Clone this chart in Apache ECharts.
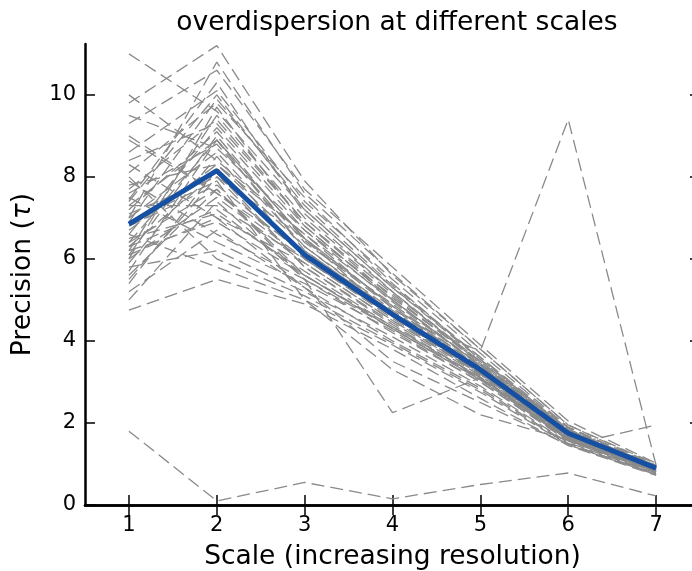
<!DOCTYPE html>
<html>
<head>
<meta charset="utf-8">
<script src="https://cdn.jsdelivr.net/npm/echarts@6/dist/echarts.min.js"></script>
<style>
  html, body { margin: 0; padding: 0; background: #fff; }
  #chart { width: 692px; height: 571px; }
</style>
</head>
<body>
<div id="chart"></div>
<script>
// scales on the x axis
const scales = ['1', '2', '3', '4', '5', '6', '7'];
// y tick values
const yTicks = [0, 2, 4, 6, 8, 10];
const yMax = 11.24;

// mean precision (thick blue line)
const meanPrecision = [6.85, 8.15, 6.1, 4.65, 3.3, 1.75, 0.9];

// individual runs (grey dashed lines), one row per run
const runs = [
  [11.0, 9.6, 7.2, 5.3, 3.6, 1.8, 0.92],
  [9.8, 11.2, 7.9, 5.6, 3.8, 1.95, 1.0],
  [10.0, 8.4, 6.6, 5.0, 3.4, 1.75, 0.9],
  [9.3, 10.6, 7.7, 5.8, 3.9, 2.05, 1.02],
  [8.9, 7.6, 6.2, 4.7, 3.3, 1.7, 0.88],
  [8.6, 10.1, 7.4, 5.5, 3.7, 1.9, 0.95],
  [8.3, 7.0, 5.9, 4.5, 3.2, 1.65, 0.85],
  [8.1, 9.8, 7.5, 5.4, 3.55, 1.85, 0.93],
  [7.9, 6.6, 5.5, 4.3, 3.05, 1.6, 0.82],
  [7.7, 9.4, 6.9, 5.15, 3.5, 1.8, 0.9],
  [7.6, 8.8, 6.4, 4.9, 3.35, 1.72, 0.88],
  [7.45, 10.3, 7.1, 5.2, 3.45, 1.82, 0.96],
  [7.3, 7.3, 6.0, 4.6, 3.25, 1.68, 0.86],
  [7.2, 9.1, 6.7, 4.95, 3.4, 1.78, 0.9],
  [7.1, 8.0, 6.5, 4.85, 3.3, 1.74, 0.89],
  [7.0, 8.6, 6.3, 4.75, 3.28, 1.7, 0.87],
  [6.9, 9.9, 7.3, 5.35, 3.6, 1.88, 0.94],
  [6.8, 7.8, 6.1, 4.6, 3.22, 1.66, 0.85],
  [6.7, 8.3, 6.6, 4.8, 3.3, 1.76, 0.9],
  [6.6, 9.2, 6.8, 5.0, 3.42, 1.8, 0.92],
  [6.5, 7.1, 5.7, 4.35, 3.1, 1.62, 0.83],
  [6.4, 8.9, 6.2, 4.7, 3.25, 1.7, 0.88],
  [6.3, 8.1, 5.8, 4.45, 3.15, 1.64, 0.84],
  [6.2, 6.9, 5.6, 4.3, 3.08, 1.58, 0.8],
  [6.1, 9.0, 6.45, 4.8, 3.32, 1.72, 0.89],
  [6.0, 7.5, 5.9, 4.5, 3.18, 1.66, 0.86],
  [5.9, 8.5, 6.0, 4.55, 3.2, 1.68, 0.87],
  [5.8, 6.2, 5.2, 4.1, 2.9, 1.52, 0.78],
  [5.6, 7.7, 5.6, 4.3, 3.05, 1.6, 0.82],
  [5.4, 8.2, 6.1, 4.6, 3.2, 1.7, 0.87],
  [5.2, 6.7, 5.3, 4.0, 2.85, 1.5, 0.76],
  [5.0, 7.4, 5.5, 4.2, 3.0, 1.56, 0.8],
  [4.75, 5.5, 4.9, 3.8, 2.6, 1.45, 0.72],
  [8.0, 6.0, 5.1, 3.95, 2.8, 1.48, 0.74],
  [9.5, 8.7, 6.7, 5.1, 3.45, 1.78, 0.91],
  [7.0, 10.8, 7.6, 5.65, 3.8, 1.95, 0.97],
  [6.2, 9.5, 7.0, 5.2, 3.5, 1.82, 0.92],
  [5.5, 8.0, 5.8, 4.4, 3.1, 1.62, 0.84],
  [7.5, 6.4, 5.4, 4.25, 3.0, 1.58, 0.8],
  [6.9, 7.9, 5.0, 3.3, 2.2, 1.58, 0.74],
  [8.4, 9.3, 6.9, 5.05, 3.5, 1.8, 0.9],
  [7.8, 8.3, 6.3, 4.7, 3.26, 1.7, 0.87],
  [6.6, 5.8, 5.0, 3.9, 2.75, 1.47, 0.74],
  [7.4, 10.0, 7.2, 5.3, 3.55, 1.84, 0.93],
  [6.3, 7.2, 5.6, 4.35, 3.12, 1.64, 0.84],
  [5.7, 8.9, 6.5, 4.85, 3.36, 1.74, 0.89],
  [9.0, 7.6, 6.0, 4.6, 3.22, 1.68, 0.86],
  [6.0, 9.7, 6.8, 5.0, 3.38, 1.76, 0.9],
  [6.4, 7.7, 5.5, 2.25, 3.1, 1.7, 0.85],
  [7.3, 8.9, 6.5, 4.6, 3.76, 9.4, 0.97],
  [6.1, 7.0, 5.3, 3.5, 2.5, 1.46, 1.95],
  [1.8, 0.1, 0.55, 0.15, 0.5, 0.78, 0.22]
];

const FONT = 'DejaVu Sans';
const spine = { show: true, lineStyle: { color: '#000', width: 2.5 } };
const tick = { show: true, inside: true, length: 10, alignWithLabel: true, lineStyle: { color: '#000', width: 1.5 } };

let series = runs.map(function (r, i) {
  return {
    name: 'run' + i,
    type: 'line',
    data: r,
    symbol: 'none',
    silent: true,
    lineStyle: { color: '#8a8a8a', width: 1.3, type: [13, 6] },
    z: 2
  };
});
series.push({
  name: 'mean',
  type: 'line',
  data: meanPrecision,
  symbol: 'none',
  lineStyle: { color: '#1650a3', width: 5 },
  z: 5
});

let chart = echarts.init(document.getElementById('chart'), null, { renderer: 'canvas' });
chart.setOption({
  animation: false,
  textStyle: { fontFamily: FONT },
  title: {
    text: 'overdispersion at different scales',
    left: 392,
    top: 5,
    textAlign: 'center',
    textStyle: { fontFamily: FONT, fontSize: 26.5, fontWeight: 'normal', color: '#000' }
  },
  grid: { left: 85, top: 44, width: 615, height: 461, outerBoundsMode: 'none', containLabel: false },
  xAxis: [
    {
      type: 'category',
      data: scales,
      boundaryGap: true,
      position: 'bottom',
      axisLine: spine,
      axisTick: tick,
      axisLabel: { fontFamily: FONT, fontSize: 21, color: '#000', margin: 10 },
      splitLine: { show: false },
      name: 'Scale (increasing resolution)',
      nameLocation: 'middle',
      nameGap: 39,
      nameTextStyle: { fontFamily: FONT, fontSize: 26.5, color: '#000' }
    },
    {
      type: 'category',
      data: scales,
      boundaryGap: true,
      position: 'top',
      axisLine: spine,
      axisTick: tick,
      axisLabel: { show: false },
      splitLine: { show: false }
    }
  ],
  yAxis: [
    {
      type: 'value',
      min: 0,
      max: yMax,
      position: 'left',
      axisLine: spine,
      axisTick: Object.assign({}, tick, { customValues: yTicks }),
      axisLabel: { fontFamily: FONT, fontSize: 21, color: '#000', margin: 9, customValues: yTicks },
      splitLine: { show: false },
      name: 'Precision ({i|τ})',
      nameLocation: 'middle',
      nameGap: 48,
      nameTextStyle: {
        fontFamily: FONT, fontSize: 26.5, color: '#000',
        rich: { i: { fontFamily: FONT, fontSize: 26.5, fontStyle: 'italic', color: '#000' } }
      }
    },
    {
      type: 'value',
      min: 0,
      max: yMax,
      position: 'right',
      axisLine: spine,
      axisTick: Object.assign({}, tick, { customValues: yTicks }),
      axisLabel: { show: false },
      splitLine: { show: false }
    }
  ],
  series
});
</script>
</body>
</html>
